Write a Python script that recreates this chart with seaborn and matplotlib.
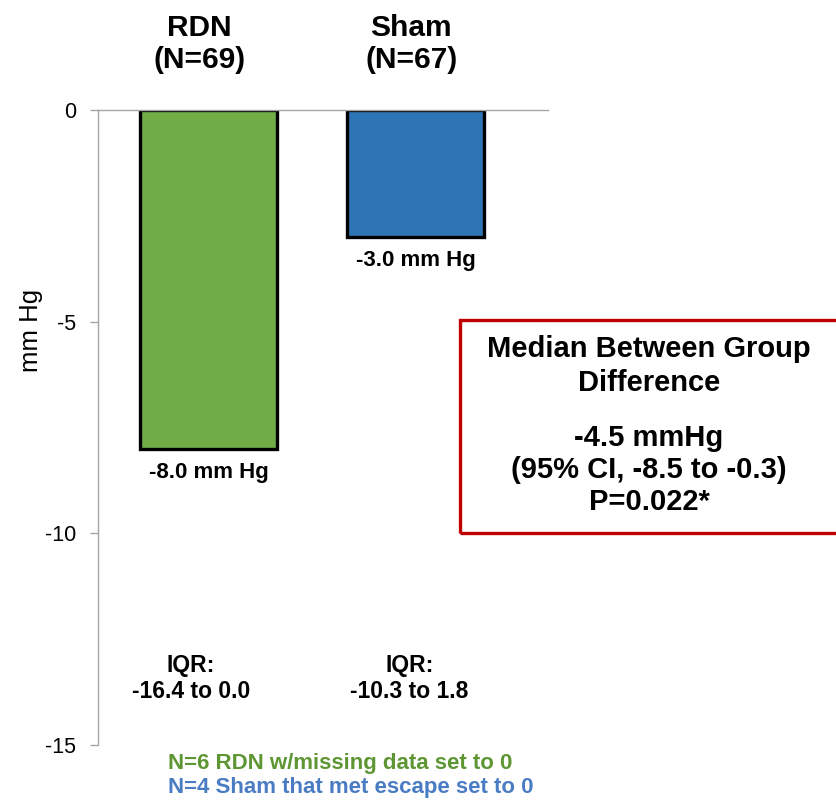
import matplotlib
matplotlib.use("Agg")
import matplotlib.pyplot as plt
import seaborn as sns
import pandas as pd
from matplotlib.patches import Rectangle

# Median change in systolic BP per arm
groups = ["RDN", "Sham"]
group_sizes = [69, 67]
medians = [-8.0, -3.0]
iqr_low = [-16.4, -10.3]
iqr_high = [0.0, 1.8]
bar_colors = ["#70AD47", "#2E75B6"]
y_ticks = [0, -5, -10, -15]

sns.set_theme(style="white")
plt.rcParams["font.family"] = ["Liberation Sans", "DejaVu Sans"]
plt.rcParams["text.color"] = "black"
plt.rcParams["ytick.labelcolor"] = "black"

df = pd.DataFrame({"group": groups, "median": medians})

fig = plt.figure(figsize=(8.36, 8.02), dpi=100)
W, H = 836, 802
ax = fig.add_axes([98 / W, 1 - 745 / H, (548 - 98) / W, (745 - 110) / H])

sns.barplot(data=df, x="group", y="median", hue="group", palette=bar_colors,
            saturation=1, width=0.662, edgecolor="black", linewidth=2.4,
            legend=False, ax=ax)

ax.set_xlim(-0.534, 1.64)
ax.set_ylim(-15, 0)
ax.set_yticks(y_ticks)
ax.set_yticklabels([f"{t:d}" for t in y_ticks], fontsize=15.5)
ax.set_xticks([])
ax.set_xlabel("")
ax.set_ylabel("")

for s in ["right", "bottom"]:
    ax.spines[s].set_visible(False)
for s in ["left", "top"]:
    ax.spines[s].set_color("#A6A6A6")
    ax.spines[s].set_linewidth(1.0)
ax.tick_params(axis="y", direction="out", length=6, width=1.0, color="#A6A6A6",
               left=True, pad=10)

# Axis title
fig.text(31 / W, 1 - 330 / H, "mm Hg", rotation=90, ha="center", va="center",
         fontsize=18.5)

# Group headers above the plot
header_dx = [-0.045, -0.02]
for i, (g, n) in enumerate(zip(groups, group_sizes)):
    ax.text(i + header_dx[i], 1.56, f"{g}\n(N={n})", ha="center", va="center",
            fontsize=21.5, fontweight="bold", linespacing=1.18, clip_on=False)

# Value labels under each bar
for i, m in enumerate(medians):
    ax.text(i, m - 0.56, f"{m:.1f} mm Hg", ha="center", va="center",
            fontsize=16, fontweight="bold")

# IQR annotations
iqr_dx = [-0.085, -0.03]
for i, (lo, hi) in enumerate(zip(iqr_low, iqr_high)):
    ax.text(i + iqr_dx[i], -13.43, f"IQR:\n{lo:.1f} to {hi:.1f}", ha="center",
            va="center", fontsize=16.5, fontweight="bold", linespacing=1.12)

# Between-group difference box
box = Rectangle((460 / W, 1 - 533 / H), 400 / W, 213 / H, transform=fig.transFigure,
                fill=False, edgecolor="#C00000", linewidth=2.4, clip_on=False)
fig.patches.append(box)
fig.text(649 / W, 1 - 366 / H, "Median Between Group\nDifference", ha="center",
         va="center", fontsize=21, fontweight="bold", linespacing=1.25)
fig.text(649 / W, 1 - 470 / H, "-4.5 mmHg\n(95% CI, -8.5 to -0.3)\nP=0.022*",
         ha="center", va="center", fontsize=21, fontweight="bold", linespacing=1.16)

# Footnotes
fig.text(168 / W, 1 - 763 / H, "N=6 RDN w/missing data set to 0", ha="left",
         va="center", fontsize=16, fontweight="bold", color="#5E9634")
fig.text(168 / W, 1 - 788 / H, "N=4 Sham that met escape set to 0", ha="left",
         va="center", fontsize=16, fontweight="bold", color="#4A7CC4")

fig.savefig("out.png", dpi=100)
